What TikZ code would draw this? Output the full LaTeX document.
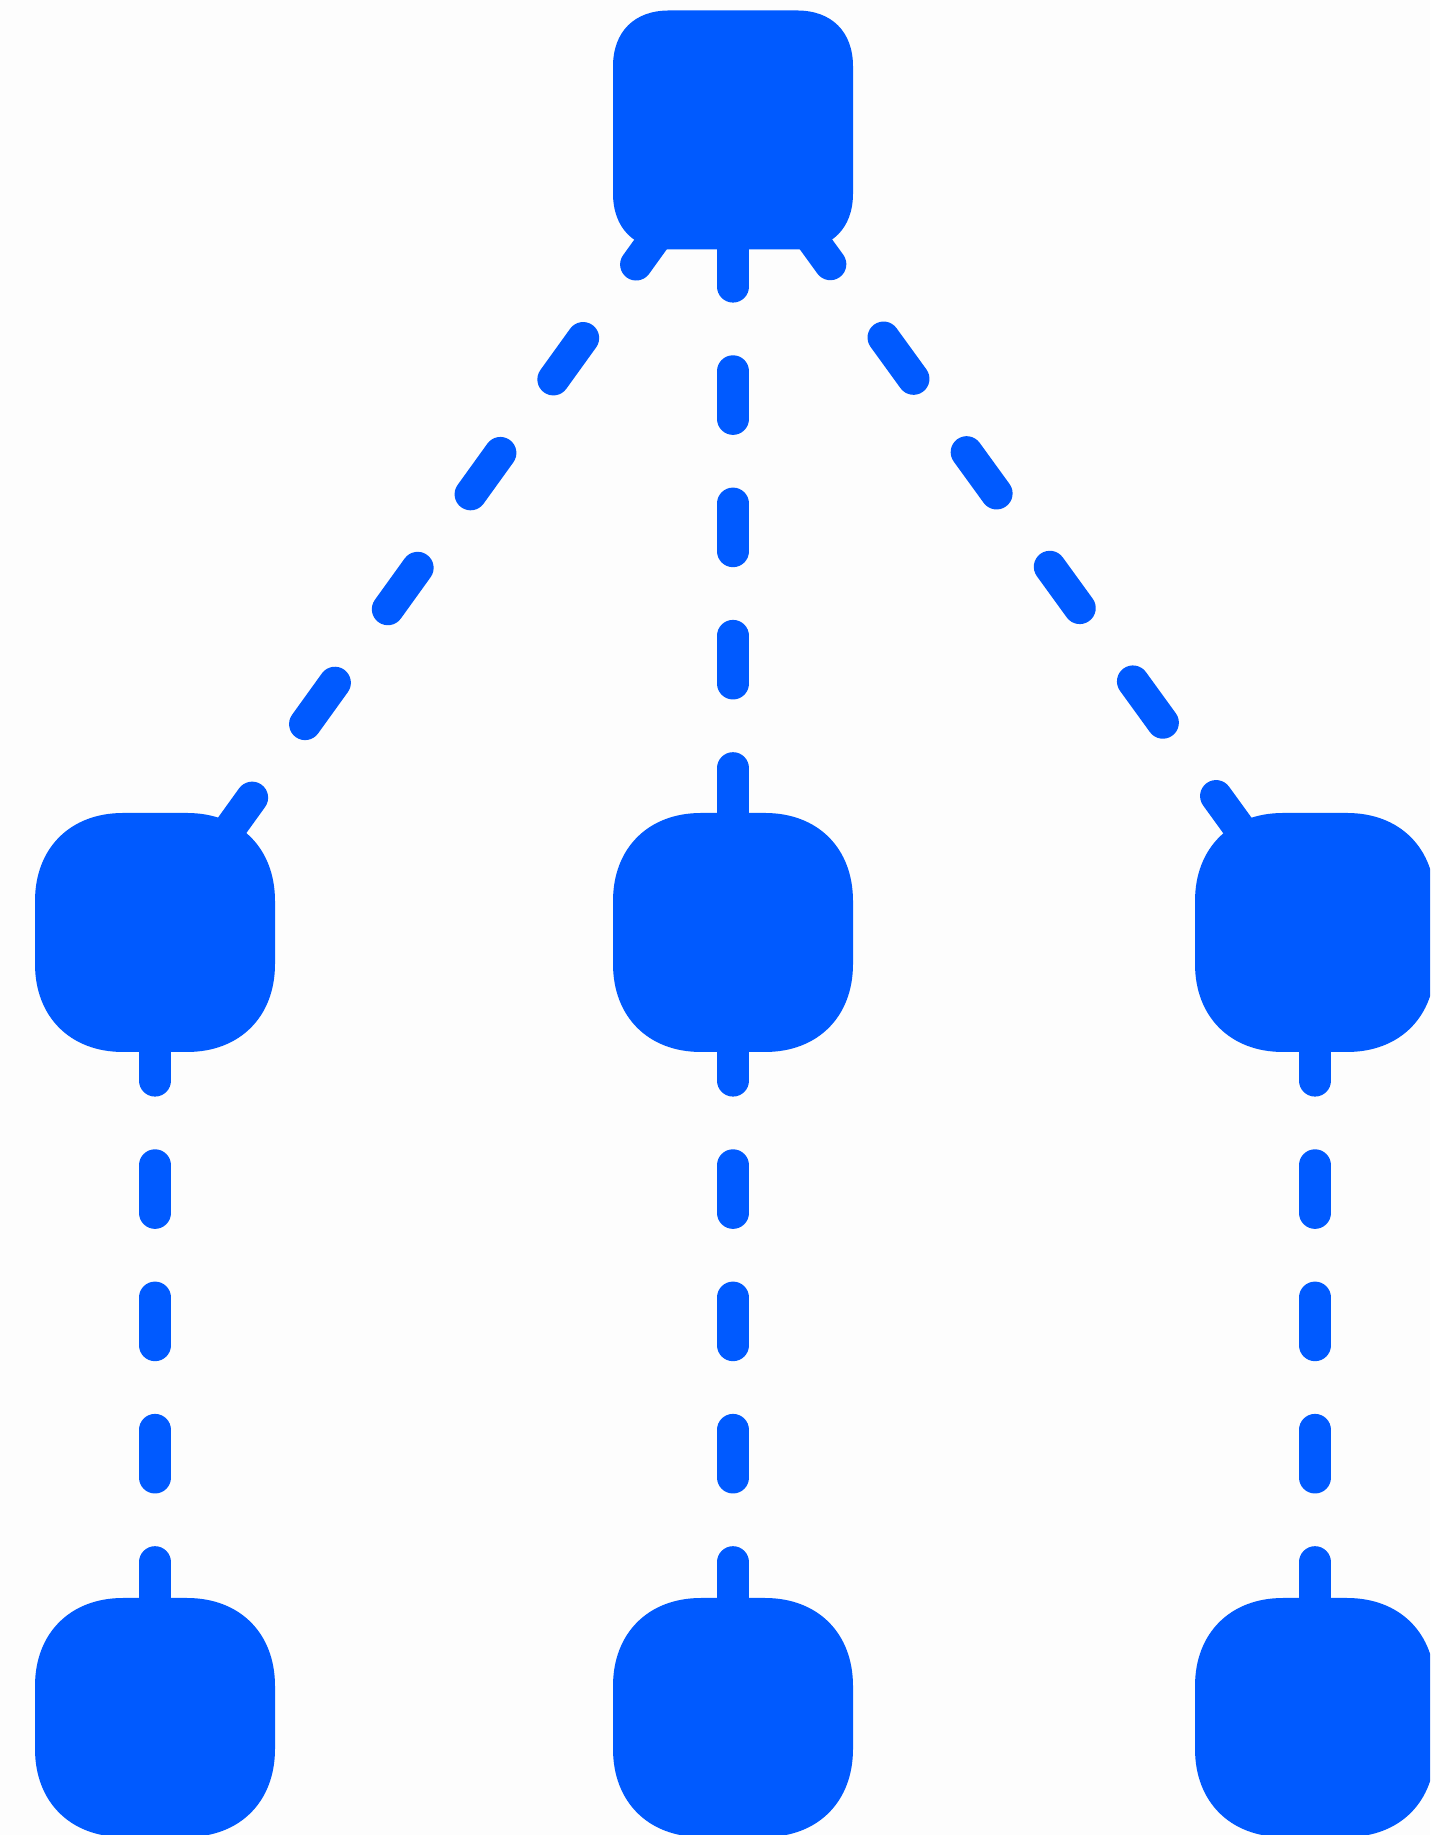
\documentclass[tikz,border=0pt]{standalone}
\usetikzlibrary{calc}
\definecolor{bl}{RGB}{0,90,255}
\definecolor{bgc}{RGB}{253,253,253}
\newcommand\sqblob[3]{%
 \fill[bl] let \p1=(#1.south west), \p2=(#1.north east) in
 (\x1,\y1+#2) -- (\x1,\y2-#2)
 .. controls (\x1,\y2-#2+#2*#3) and (\x1+#2-#2*#3,\y2) .. (\x1+#2,\y2)
 -- (\x2-#2,\y2)
 .. controls (\x2-#2+#2*#3,\y2) and (\x2,\y2-#2+#2*#3) .. (\x2,\y2-#2)
 -- (\x2,\y1+#2)
 .. controls (\x2,\y1+#2-#2*#3) and (\x2-#2+#2*#3,\y1) .. (\x2-#2,\y1)
 -- (\x1+#2,\y1)
 .. controls (\x1+#2-#2*#3,\y1) and (\x1,\y1+#2-#2*#3) .. (\x1,\y1+#2) -- cycle;}
\begin{document}
\begin{tikzpicture}[x=1pt,y=1pt,
  box/.style={minimum width=240pt,minimum height=239pt,inner sep=0pt,outer sep=0pt},
  link/.style={draw=bl,line width=32pt,line cap=round},
  vdash/.style={dash pattern=on 47.6pt off 84.7pt},
  ddash/.style={dash pattern=on 51pt off 90.6pt,dash phase=26.8pt}]
\fill[bgc] (0,0) rectangle (1430,1835);
\useasboundingbox (0,0) rectangle (1430,1835);
\clip (0,0) rectangle (1430,1835);
\node[box] (top) at (733,1705) {};
\node[box] (ml) at (155,902.5) {};
\node[box] (mc) at (733,902.5) {};
\node[box] (mr) at (1315,902.5) {};
\node[box] (bL) at (155,117.5) {};
\node[box] (bC) at (733,117.5) {};
\node[box] (bR) at (1315,117.5) {};
\draw[link,vdash,dash phase=23.3pt] (top.center) -- (mc.center);
\draw[link,ddash] (top.center) -- (ml.center);
\draw[link,ddash] (top.center) -- (mr.center);
\draw[link,vdash,dash phase=31.8pt] (ml.center) -- (bL.center);
\draw[link,vdash,dash phase=31.8pt] (mc.center) -- (bC.center);
\draw[link,vdash,dash phase=31.8pt] (mr.center) -- (bR.center);
\sqblob{top}{56}{0.62}
\sqblob{ml}{88}{0.6}
\sqblob{mc}{88}{0.6}
\sqblob{mr}{88}{0.6}
\sqblob{bL}{88}{0.6}
\sqblob{bC}{88}{0.6}
\sqblob{bR}{88}{0.6}
\end{tikzpicture}
\end{document}
